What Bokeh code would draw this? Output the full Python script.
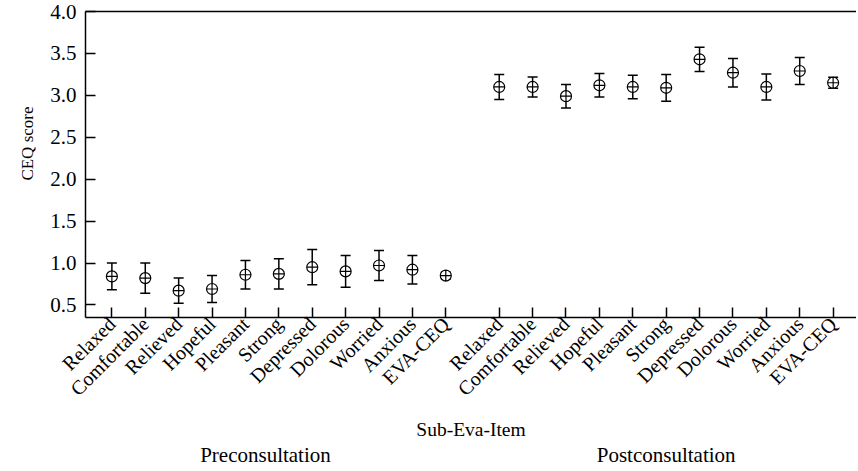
import math
from bokeh.plotting import figure
from bokeh.models import ColumnDataSource, Whisker, TeeHead, LinearAxis, FixedTicker, Range1d, Title
from bokeh.embed import file_html
from bokeh.resources import INLINE

# ---------------- data ----------------
items = ["Relaxed", "Comfortable", "Relieved", "Hopeful", "Pleasant", "Strong",
         "Depressed", "Dolorous", "Worried", "Anxious", "EVA-CEQ"]
groups = ["Preconsultation", "Postconsultation"]
pre_mean = [0.84, 0.82, 0.67, 0.69, 0.86, 0.87, 0.95, 0.90, 0.97, 0.92, 0.85]
pre_sd = [0.16, 0.18, 0.15, 0.16, 0.17, 0.18, 0.21, 0.19, 0.18, 0.17, 0.04]
post_mean = [3.10, 3.10, 2.99, 3.12, 3.10, 3.09, 3.43, 3.27, 3.10, 3.29, 3.15]
post_sd = [0.15, 0.12, 0.14, 0.14, 0.14, 0.16, 0.145, 0.17, 0.155, 0.16, 0.065]
y_ticks = [0.5, 1.0, 1.5, 2.0, 2.5, 3.0, 3.5, 4.0]
y_title = "CEQ score"
x_title = "Sub-Eva-Item"

# ---------------- positions ----------------
n = len(items)
GAP = 1.6
pre_x = [i + 1 for i in range(n)]
post_x = [n + GAP + i for i in range(n)]
xs = pre_x + post_x
means = pre_mean + post_mean
sds = pre_sd + post_sd
src = ColumnDataSource(dict(
    x=xs, mean=means,
    lower=[m - s for m, s in zip(means, sds)],
    upper=[m + s for m, s in zip(means, sds)],
))

FONT = "Liberation Serif"

p = figure(width=856, height=469, output_backend="svg", toolbar_location=None,
           x_range=Range1d(0.21, 23.3), y_range=Range1d(0.35, 4.0),
           min_border_left=85, min_border_right=0, min_border_top=11, min_border_bottom=0)
p.outline_line_color = None
p.xgrid.visible = False
p.ygrid.visible = False
p.background_fill_color = "white"
p.border_fill_color = "white"

# y axis
ya = p.yaxis[0]
ya.ticker = FixedTicker(ticks=y_ticks)
ya.major_label_overrides = {t: f"{t:.1f}" for t in y_ticks}

# x axis
xa = p.xaxis[0]
xa.ticker = FixedTicker(ticks=xs)
xa.major_label_overrides = {x: lab for x, lab in zip(xs, items + items)}
xa.major_label_orientation = math.pi / 4
xa.axis_label = x_title

for ax in (ya, xa):
    ax.axis_line_width = 1.5
    ax.axis_line_color = "black"
    ax.major_tick_line_width = 1.5
    ax.major_tick_line_color = "black"
    ax.major_tick_in = 10
    ax.major_tick_out = 0
    ax.minor_tick_line_color = None
    ax.major_label_text_font = FONT
    ax.major_label_text_color = "black"
    ax.axis_label_text_font = FONT
    ax.axis_label_text_font_style = "normal"
    ax.axis_label_text_color = "black"

ya.major_label_text_font_size = "21px"
ya.major_label_standoff = 9

xa.major_label_text_font_size = "20px"
xa.major_label_standoff = 3
xa.axis_label_text_font_size = "19.5px"
xa.axis_label_standoff = 8

# y title (placed above the frame's centre, as in the reference)
p.add_layout(Title(text=y_title, align="right", offset=95, standoff=18, vertical_align="top",
                   text_font=FONT, text_font_size="17px", text_font_style="normal",
                   text_color="black"), "left")

# group axis
pre_c = (pre_x[0] + pre_x[-1]) / 2 - 0.4
post_c = (post_x[0] + post_x[-1]) / 2
gax = LinearAxis(ticker=FixedTicker(ticks=[pre_c, post_c]),
                 major_label_overrides={pre_c: groups[0], post_c: groups[1]},
                 axis_line_color=None, major_tick_line_color=None, minor_tick_line_color=None,
                 major_tick_in=0, major_tick_out=0,
                 major_label_text_font=FONT, major_label_text_font_size="21px",
                 major_label_text_color="black", major_label_standoff=0)
p.add_layout(gax, "below")

# top border line
top = LinearAxis(ticker=FixedTicker(ticks=[]), axis_line_width=1.5, axis_line_color="black",
                 major_tick_line_color=None, minor_tick_line_color=None,
                 major_label_text_font_size="0px", major_label_standoff=0,
                 major_tick_in=0, major_tick_out=0)
p.add_layout(top, "above")

w = Whisker(base="x", upper="upper", lower="lower", source=src,
            line_width=1.5, line_color="black",
            upper_head=TeeHead(size=10, line_width=1.5, line_color="black"),
            lower_head=TeeHead(size=10, line_width=1.5, line_color="black"))
p.add_layout(w)

p.scatter("x", "mean", source=src, marker="circle_cross", size=11,
          fill_color="white", line_color="black", line_width=1.2)

open("out.html", "w").write(file_html(p, INLINE))
